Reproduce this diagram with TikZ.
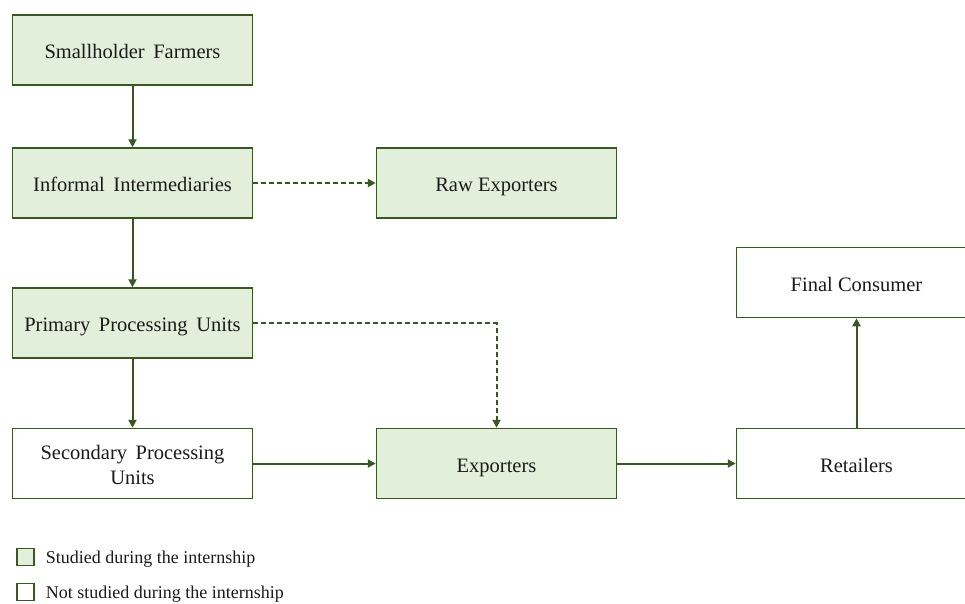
\documentclass[tikz,border=0pt]{standalone}
\usepackage{fontspec}
\setmainfont{Liberation Serif}
\usetikzlibrary{arrows.meta,positioning}
\definecolor{leaf}{RGB}{56,87,35}
\definecolor{leaffill}{RGB}{226,239,218}
\definecolor{inkgray}{RGB}{26,26,26}
\tikzset{
  stage/.style={draw=leaf, fill=#1, line width=1.5pt, align=center, text=inkgray,
    minimum width=240pt, minimum height=70pt, inner sep=0pt,
    text height=18pt, text depth=1pt, font=\fontsize{20.5}{25}\selectfont},
  stage/.default=white,
  flow/.style={-{Triangle[length=8pt,width=8pt]}, line width=2pt, draw=leaf},
  side/.style={flow, dash pattern=on 5pt off 3pt},
  key/.style={draw=leaf, fill=#1, line width=1.5pt, minimum size=17pt, inner sep=0pt},
  key/.default=white,
  keytext/.style={anchor=west, inner sep=0pt, text=inkgray, text height=14pt,
    text depth=2pt, font=\fontsize{18}{20}\selectfont}
}
\begin{document}
\begin{tikzpicture}[x=1pt, y=-1pt, node distance=68.5pt and 122.5pt]
  \useasboundingbox (0,0) rectangle (965,603);
  % chain studied during the internship
  \node[stage=leaffill] (farmers) at (132.5,50) {Smallholder\, Farmers};
  \node[stage=leaffill, below=61.5pt of farmers] (middlemen) {Informal\, Intermediaries};
  \node[stage=leaffill, right=of middlemen] (rawexp) {Raw Exporters};
  \node[stage=leaffill, below=of middlemen] (primary) {Primary\, Processing\, Units};
  \node[stage, below=69pt of primary, text height=43pt, text depth=2pt] (secondary) {Secondary\, Processing\\Units};
  \node[stage=leaffill, right=of secondary] (exporters) {Exporters};
  \node[stage, right=118.5pt of exporters] (retailers) {Retailers};
  \node[stage, above=109.5pt of retailers] (consumer) {Final Consumer};
  \draw[flow] (farmers) -- (middlemen);
  \draw[side] (middlemen) -- (rawexp);
  \draw[flow] (middlemen) -- (primary);
  \draw[side] (primary.east) -| (exporters.north);
  \draw[flow] (primary) -- (secondary);
  \draw[flow] (secondary) -- (exporters);
  \draw[flow] (exporters) -- (retailers);
  \draw[flow] (retailers) -- (consumer);
  % legend
  \node[key=leaffill] (keyon) at (25.5,557) {};
  \node[keytext, right=11pt of keyon] (keyontext) {Studied during the internship};
  \node[key] (keyoff) at (25.5,592) {};
  \node[keytext, right=11pt of keyoff] (keyofftext) {Not studied during the internship};
\end{tikzpicture}
\end{document}
